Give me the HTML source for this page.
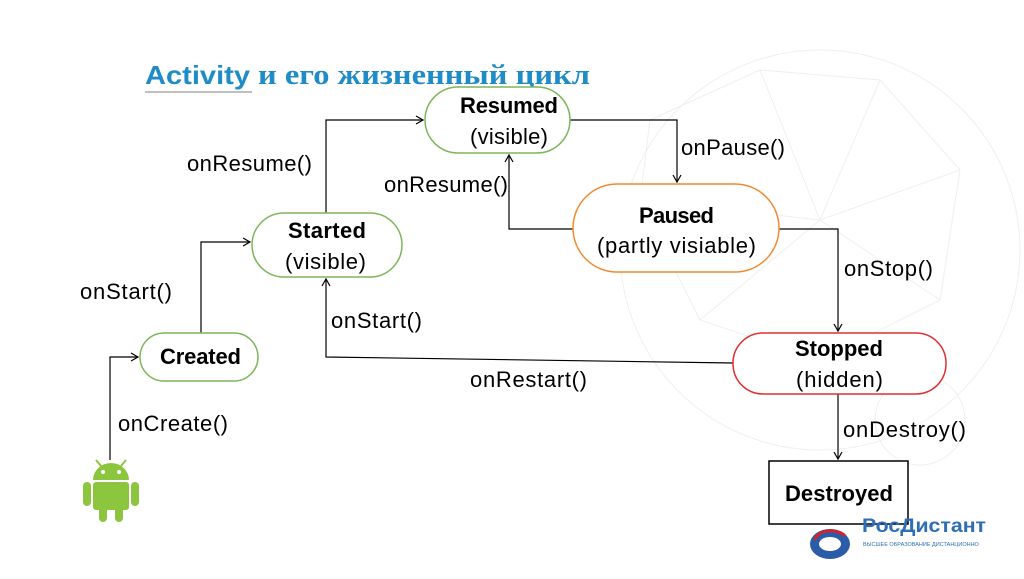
<!DOCTYPE html>
<html><head><meta charset="utf-8"><style>
body{margin:0;background:#fff;}
svg text{font-family:"Liberation Sans","DejaVu Sans",sans-serif;}
</style></head><body>
<svg width="1024" height="574" viewBox="0 0 1024 574" xmlns="http://www.w3.org/2000/svg">
<defs><marker id="a" markerWidth="10" markerHeight="10" refX="8" refY="5" orient="auto" markerUnits="userSpaceOnUse"><path d="M1,1 L8,5 L1,9" fill="none" stroke="#000" stroke-width="1.2"/></marker></defs>
<g fill="none" stroke="#efefef" stroke-width="1">
<circle cx="820" cy="250" r="200"/>
<path d="M650,120 L760,70 L880,80 L960,170 L940,300 L820,360 L700,320 L640,200 Z M760,70 L820,220 L960,170 M640,200 L820,220 L940,300 M880,80 L820,220 L700,320"/>
<circle cx="920" cy="420" r="45"/>
</g>
<text x="145" y="84" font-size="26" font-weight="bold" fill="#1f8bc7" textLength="105" lengthAdjust="spacingAndGlyphs">Activity</text>
<text x="258" y="84" font-size="28" font-weight="bold" fill="#1f8bc7" textLength="332" lengthAdjust="spacingAndGlyphs" style="font-family:'Liberation Serif',serif">и его жизненный цикл</text>
<line x1="145" y1="92" x2="252" y2="92" stroke="#aaa" stroke-width="1.5"/>
<g stroke="#000" stroke-width="1.2" fill="none">
<path d="M201,333 V242 H250" marker-end="url(#a)"/>
<path d="M326,213 V120 H423" marker-end="url(#a)"/>
<path d="M570,120 H677 V182" marker-end="url(#a)"/>
<path d="M573,229 H509 V155" marker-end="url(#a)"/>
<path d="M779,229 H838 V331" marker-end="url(#a)"/>
<path d="M733,363 L326,357 V279" marker-end="url(#a)"/>
<path d="M838,394 V459" marker-end="url(#a)"/>
<path d="M110,460 V357 H138" marker-end="url(#a)"/>
</g>
<rect x="425" y="87" width="145" height="66" rx="33" fill="#fff" stroke="#7cb65a" stroke-width="1.5"/>
<rect x="252" y="213" width="150" height="64" rx="32" fill="#fff" stroke="#7cb65a" stroke-width="1.5"/>
<rect x="140" y="333" width="118" height="48" rx="24" fill="#fff" stroke="#7cb65a" stroke-width="1.5"/>
<rect x="573" y="184" width="206" height="88" rx="44" fill="#fff" stroke="#f08a32" stroke-width="1.5"/>
<rect x="733" y="333" width="213" height="61" rx="30" fill="#fff" stroke="#e03030" stroke-width="1.5"/>
<rect x="769" y="461" width="139" height="63" fill="#fff" stroke="#000" stroke-width="1.5"/>
<g font-size="22" lengthAdjust="spacingAndGlyphs">
<text x="460" y="113" font-weight="bold" textLength="98">Resumed</text><text x="470" y="144" textLength="78">(visible)</text>
<text x="288" y="238" font-weight="bold" textLength="78">Started</text><text x="285" y="269" textLength="81">(visible)</text>
<text x="160" y="364" font-weight="bold" textLength="81">Created</text>
<text x="639" y="223" font-weight="bold" textLength="75">Paused</text><text x="597" y="253" textLength="159">(partly visiable)</text>
<text x="795" y="356" font-weight="bold" textLength="88">Stopped</text><text x="796" y="387" textLength="87">(hidden)</text>
<text x="785" y="501" font-weight="bold" textLength="108">Destroyed</text>
<text x="187" y="171" textLength="125">onResume()</text>
<text x="384" y="192" textLength="124">onResume()</text>
<text x="681" y="155" textLength="104">onPause()</text>
<text x="844" y="276" textLength="89">onStop()</text>
<text x="80" y="299" textLength="92">onStart()</text>
<text x="331" y="328" textLength="91">onStart()</text>
<text x="470" y="387" textLength="117">onRestart()</text>
<text x="118" y="431" textLength="110">onCreate()</text>
<text x="843" y="437" textLength="123">onDestroy()</text>
</g>
<g fill="#8cc63f">
<path d="M93,480 a18,17 0 0 1 36,0 z"/>
<rect x="93" y="482" width="36" height="28" rx="3"/>
<rect x="83" y="482" width="8" height="24" rx="4"/>
<rect x="131" y="482" width="8" height="24" rx="4"/>
<rect x="99" y="505" width="8" height="17" rx="4"/>
<rect x="115" y="505" width="8" height="17" rx="4"/>
<line x1="101" y1="466" x2="96" y2="460" stroke="#8cc63f" stroke-width="2"/>
<line x1="121" y1="466" x2="126" y2="460" stroke="#8cc63f" stroke-width="2"/>
</g>
<circle cx="103" cy="472" r="2" fill="#fff"/><circle cx="119" cy="472" r="2" fill="#fff"/>
<ellipse cx="830" cy="544" rx="20" ry="15" fill="#2b5ca8"/>
<ellipse cx="830" cy="544" rx="11" ry="7" fill="#fff"/>
<path d="M815,540 a16,10 0 0 1 30,-4" stroke="#d2232a" stroke-width="3" fill="none"/>
<text x="862" y="532" font-size="19" font-weight="bold" fill="#2f6db5" textLength="124" lengthAdjust="spacingAndGlyphs">РосДистант</text>
<text x="863" y="546" font-size="5.5" fill="#2f6db5">ВЫСШЕЕ ОБРАЗОВАНИЕ ДИСТАНЦИОННО</text>
</svg>
</body></html>
